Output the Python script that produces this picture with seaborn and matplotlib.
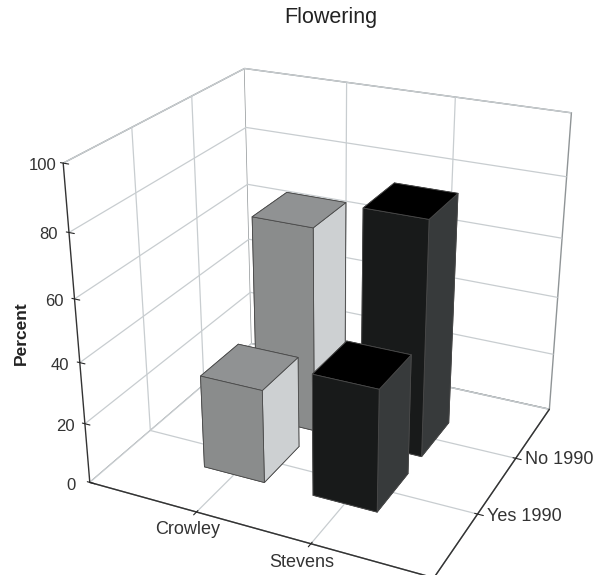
import numpy as np
import pandas as pd
import matplotlib
matplotlib.use("Agg")
import matplotlib.pyplot as plt
import seaborn as sns

sns.set_style("white")
plt.rcParams['font.family'] = ['Liberation Sans', 'DejaVu Sans']

sites = ["Crowley", "Stevens"]
groups = ["Yes 1990", "No 1990"]
percent_yes = [31, 40]
percent_no = [69, 78]
y_ticks = [0, 20, 40, 60, 80, 100]

df = pd.DataFrame({"site": sites * 2,
                   "group": [groups[0]] * 2 + [groups[1]] * 2,
                   "percent": percent_yes + percent_no})
df["x"] = df["site"].map({s: i for i, s in enumerate(sites)})
df["y"] = df["group"].map({g: i for i, g in enumerate(groups)})

fig = plt.figure(figsize=(6.01, 5.75), dpi=100)
ax = fig.add_axes([0.036, -0.032, 1.0, 1.0], projection="3d")
ax.set_proj_type("persp", focal_length=0.46)
ax.view_init(elev=25, azim=-64.5)
ax.set_box_aspect((1.15, 1.06, 1.05), zoom=1.025)

# faces: bottom, top, front, back, left, right
grey_faces = ["#8a8c8c", "#909293", "#8a8c8c", "#8a8c8c", "#8a8c8c", "#cdd0d2"]
dark_faces = ["#181a1a", "#000000", "#181a1a", "#181a1a", "#181a1a", "#373a3b"]
colors = {"Crowley": grey_faces, "Stevens": dark_faces}
wx = 0.56
wy = 0.68
for _, row in df.sort_values("y", ascending=False).iterrows():
    ax.bar3d(row["x"] - wx / 2, row["y"] - wy / 2, 0, wx, wy, row["percent"],
             color=colors[row["site"]], edgecolor="#4a4a4a", linewidth=0.6, shade=False)

ax.set_xlim(-1, 2)
ax.set_ylim(-1, 2)
ax.set_zlim(0, 100)
ax.set_xticks([0, 1])
ax.set_xticklabels(sites, fontsize=13, color="#333333", ha="center", va="bottom")
ax.set_yticks([0, 1])
ax.set_yticklabels(groups, fontsize=13, color="#333333", ha="left", va="bottom")
ax.set_zticks(y_ticks)
ax.set_zticklabels(y_ticks, fontsize=12, color="#333333", va="center")
ax.tick_params(axis="x", pad=4)
ax.tick_params(axis="y", pad=-2)
ax.tick_params(axis="z", pad=0)
for a in (ax.xaxis, ax.yaxis, ax.zaxis):
    a.set_pane_color((1, 1, 1, 1))
    a.pane.set_edgecolor("#8f9496")
    a.line.set_color("#333333")
    a.line.set_linewidth(1.0)
    a._axinfo["grid"]["color"] = "#c8cdd0"
    a._axinfo["grid"]["linewidth"] = 0.9
ax.zaxis._axinfo["juggled"] = (1, 2, 0)
ax.grid(True)
fig.text(0.036, 0.421, "Percent", rotation=90, ha="center", va="center", fontsize=12.5, fontweight="bold", color="#222222")
fig.text(0.55, 0.97, "Flowering", ha="center", va="center", fontsize=15.5, color="#222222")
fig.savefig("out.png", dpi=100)
